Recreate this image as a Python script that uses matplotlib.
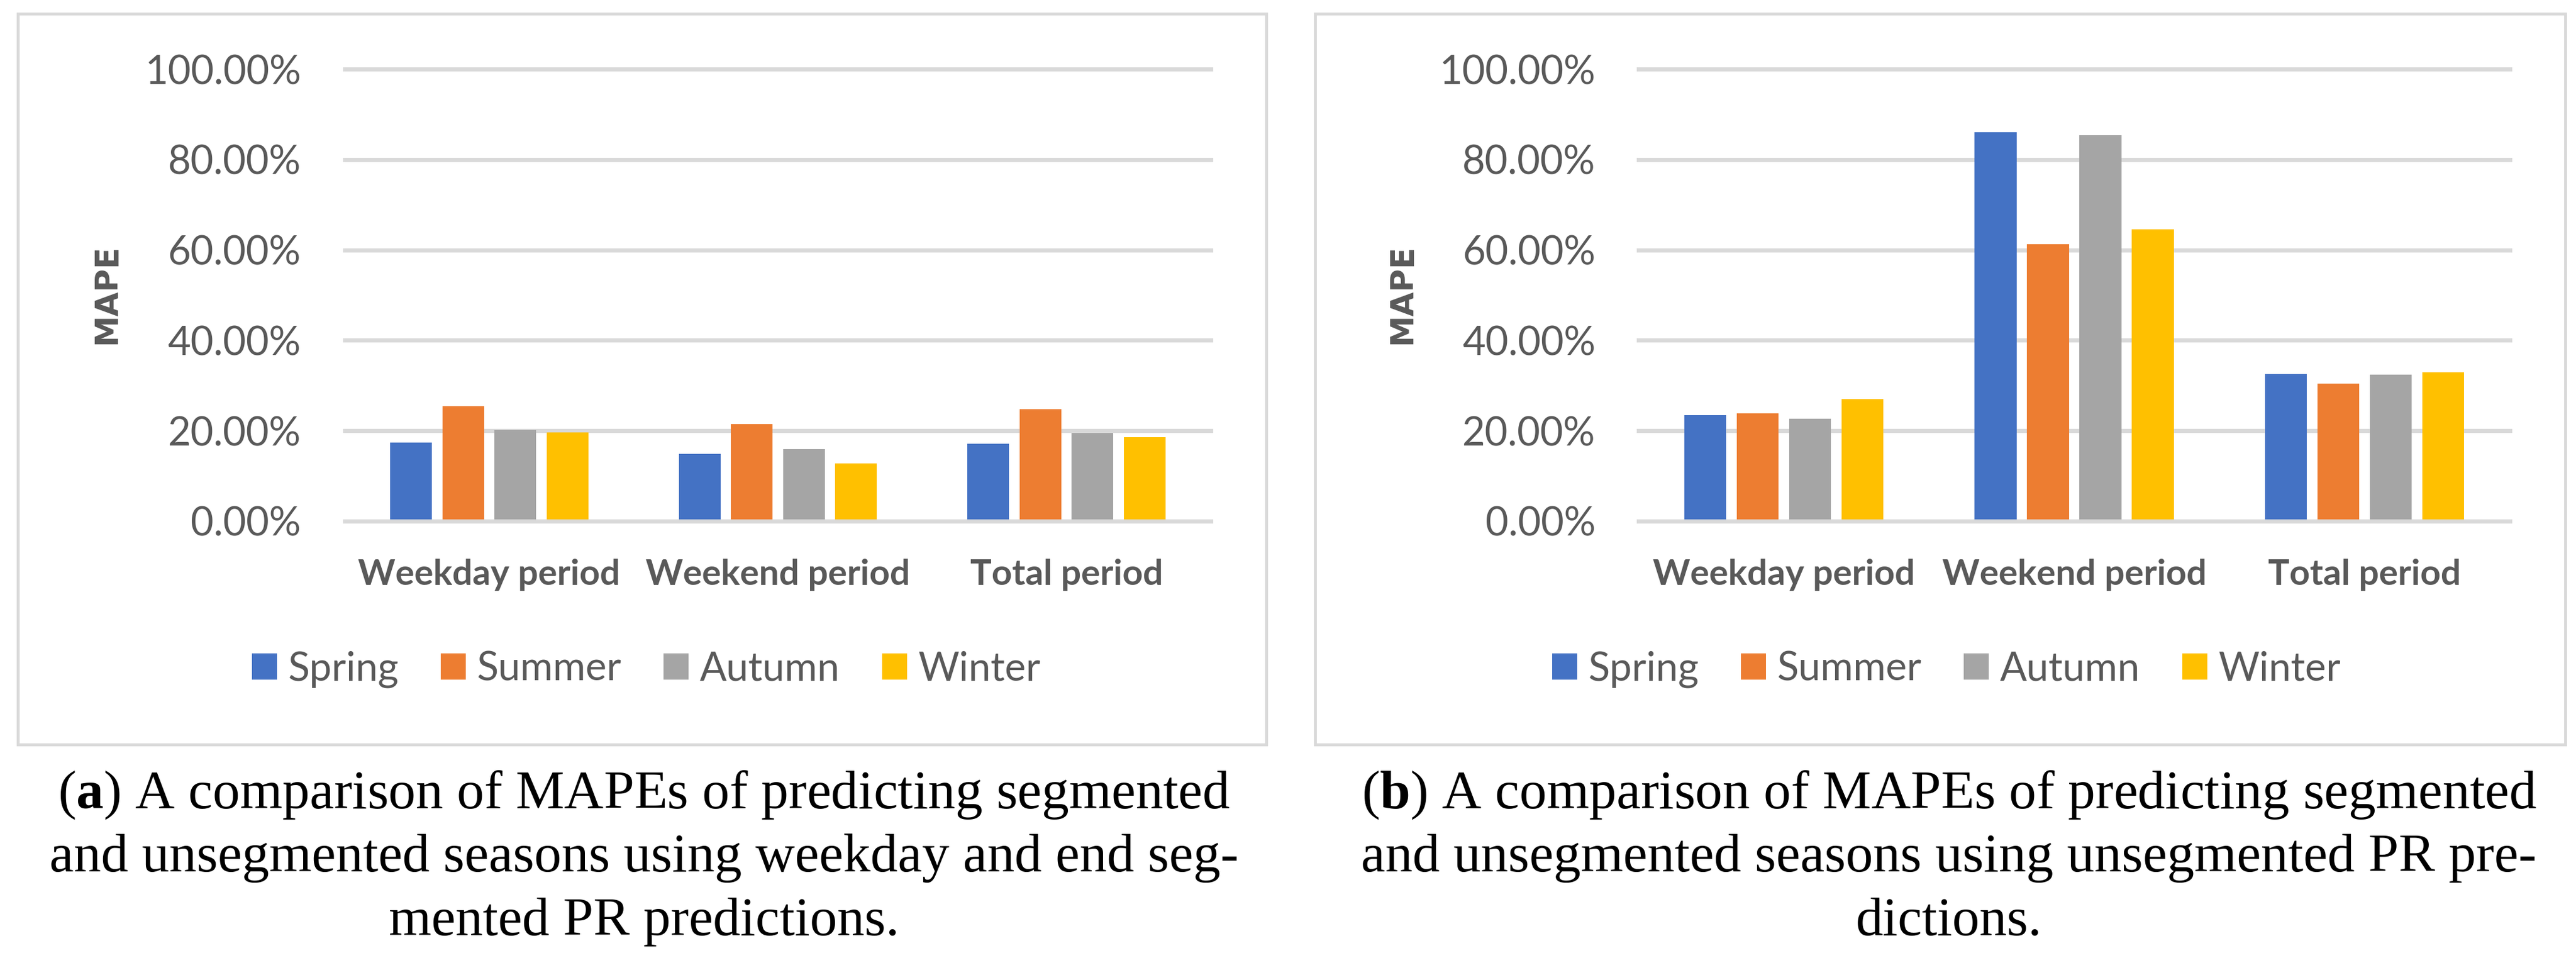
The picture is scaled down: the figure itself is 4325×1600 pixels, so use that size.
import matplotlib
matplotlib.use("Agg")
import matplotlib.pyplot as plt
from matplotlib.ticker import PercentFormatter
from matplotlib.patches import Rectangle
import numpy as np

# ---------------- data ----------------
categories = ["Weekday period", "Weekend period", "Total period"]
seasons = ["Spring", "Summer", "Autumn", "Winter"]
# panel (a): segmented PR predictions
spring_a = [0.174, 0.149, 0.171]
summer_a = [0.254, 0.215, 0.248]
autumn_a = [0.202, 0.160, 0.195]
winter_a = [0.196, 0.128, 0.186]
# panel (b): unsegmented PR predictions
spring_b = [0.234, 0.860, 0.325]
summer_b = [0.238, 0.613, 0.304]
autumn_b = [0.226, 0.854, 0.324]
winter_b = [0.270, 0.646, 0.329]
yticks = [0.0, 0.2, 0.4, 0.6, 0.8, 1.0]
ylabel = "MAPE"
caption_a = [r"($\mathbf{a}$) A comparison of MAPEs of predicting segmented",
             "and unsegmented seasons using weekday and end seg-",
             "mented PR predictions."]
caption_b = [r"($\mathbf{b}$) A comparison of MAPEs of predicting segmented",
             "and unsegmented seasons using unsegmented PR pre-",
             "dictions."]

colors = ["#4472C4", "#ED7D31", "#A5A5A5", "#FFC000"]
grid_c = "#D9D9D9"
text_c = "#595959"

plt.rcParams["mathtext.fontset"] = "custom"
plt.rcParams["mathtext.rm"] = "Liberation Serif"
plt.rcParams["mathtext.bf"] = "Liberation Serif:bold"

W, H = 4325, 1600
fig = plt.figure(figsize=(W / 100, H / 100), dpi=100)

def fx(px):
    return px / W

def fy(py):
    return 1 - py / H

panels = [
    dict(vals=[spring_a, summer_a, autumn_a, winter_a], ax=(579, 2033), box=(30, 2126),
         ylab_x=179, leg_x=1085, cap_x=1081, cap=caption_a, pad=53),
    dict(vals=[spring_b, summer_b, autumn_b, winter_b], ax=(2751, 4214), box=(2208, 4307),
         ylab_x=2354, leg_x=3268, cap_x=3272, cap=caption_b, pad=52),
]

ax_top, ax_bot = 116, 875
x = np.arange(len(categories))
pitch = 0.1805
bw = 0.1444

for p in panels:
    # chart frame
    b0, b1 = p["box"]
    fig.patches.append(Rectangle((fx(b0), fy(1250)), fx(b1 - b0), (1250 - 23) / H,
                                 transform=fig.transFigure, fill=False,
                                 edgecolor=grid_c, linewidth=3.5, zorder=0))
    a0, a1 = p["ax"]
    ax = fig.add_axes([fx(a0), fy(ax_bot), fx(a1 - a0), (ax_bot - ax_top) / H])
    handles = []
    for i, (vals, c, name) in enumerate(zip(p["vals"], colors, seasons)):
        h = ax.bar(x + (i - 1.5) * pitch, vals, width=bw, color=c, label=name, zorder=1)
        handles.append(h)
    ax.set_xlim(-0.5, len(categories) - 0.5)
    ax.set_ylim(0, 1.0)
    ax.set_yticks(yticks)
    ax.yaxis.set_major_formatter(PercentFormatter(xmax=1, decimals=2))
    ax.set_axisbelow(True)
    ax.grid(True, axis="y", color=grid_c, linewidth=5, clip_on=False)
    for s in ["top", "left", "right"]:
        ax.spines[s].set_visible(False)
    ax.spines["bottom"].set_color(grid_c)
    ax.spines["bottom"].set_linewidth(5)
    ax.spines["bottom"].set_zorder(3)
    ax.tick_params(axis="both", length=0)
    ax.tick_params(axis="y", pad=p["pad"], labelsize=48, labelcolor=text_c)
    for lbl in ax.get_yticklabels():
        lbl.set_fontfamily("Lato")
        lbl.set_va("center_baseline")
    ax.set_xticks(x)
    ax.set_xticklabels(categories, fontfamily="Lato", fontweight="bold",
                       fontsize=43, color=text_c)
    ax.tick_params(axis="x", pad=77)
    for lbl in ax.get_xticklabels():
        lbl.set_va("baseline")
    fig.text(fx(p["ylab_x"]), fy(494), ylabel, rotation=90, ha="center", va="center",
             fontfamily="DejaVu Sans", fontweight="bold", fontsize=38, color=text_c)
    fig.legend(handles=handles, labels=seasons, loc="center",
               bbox_to_anchor=(fx(p["leg_x"]), fy(1124)), ncol=4, frameon=False,
               prop=dict(family="Lato", size=48), labelcolor=text_c,
               handlelength=0.63, handleheight=0.63, handletextpad=0.29,
               columnspacing=1.05)
    for line, base in zip(p["cap"], [1357, 1463, 1570]):
        fig.text(fx(p["cap_x"]), fy(base), line, ha="center", va="baseline",
                 fontfamily="Liberation Serif", fontsize=66, color="black")

fig.savefig("out.png", dpi=100, facecolor="white")
